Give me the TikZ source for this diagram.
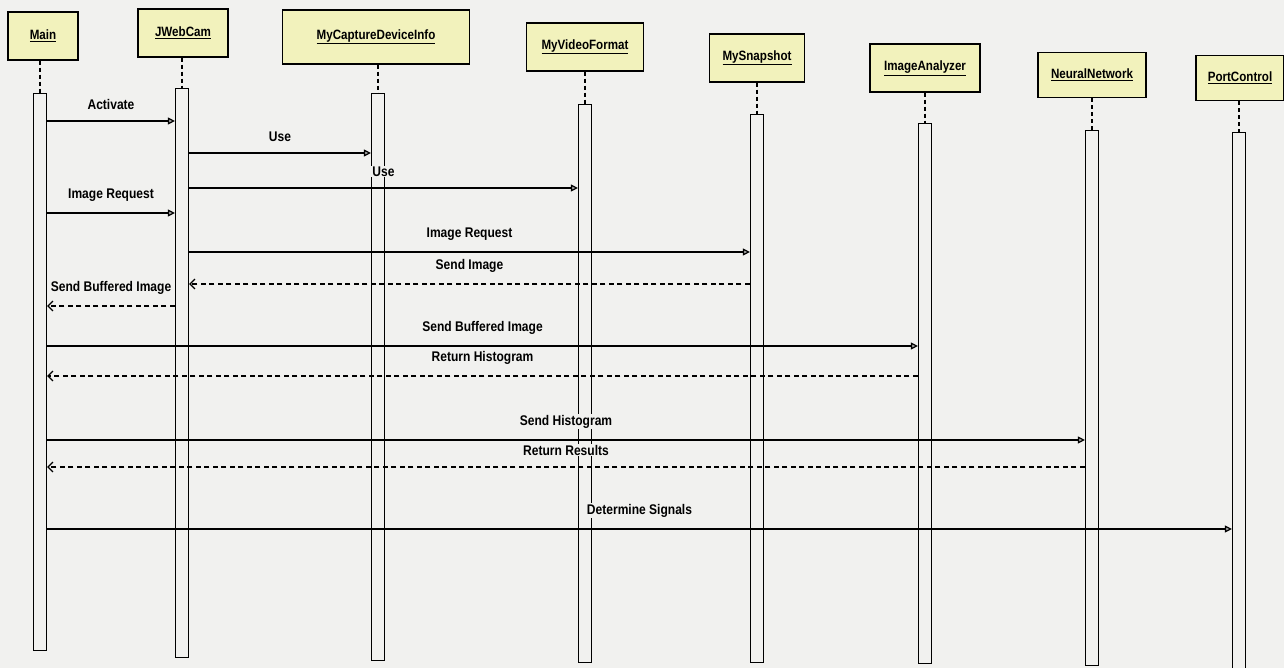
\documentclass[tikz,border=0pt]{standalone}
\usepackage{fontspec}
\newfontfamily\umlfont{Liberation Sans}[FakeStretch=0.86]
\usetikzlibrary{arrows.meta}
\definecolor{paper}{HTML}{F1F1EF}
\definecolor{headfill}{HTML}{F2F2BC}

\begin{document}
\begin{tikzpicture}[x=1pt,y=-1pt,
  line width=1.2pt,
  lifehead/.style={draw, fill=headfill, inner sep=0pt, minimum height=48pt,
    font=\umlfont\bfseries\fontsize{13.5}{15}\selectfont},
  actbar/.style={draw, inner sep=0pt, minimum width=13pt, anchor=north},
  lifeline/.style={line width=1.4pt, dash pattern=on 4pt off 3pt},
  call/.style={-{Triangle[length=7pt,width=7pt,fill=gray!70]}},
  reply/.style={dash pattern=on 5pt off 3.5pt, -{Straight Barb[length=5pt,width=10pt]}},
  msglabel/.style={fill=paper, inner sep=1pt, midway, above=10pt,
    font=\umlfont\bfseries\fontsize{14}{16}\selectfont}
]
% page
\fill[paper] (0,0) rectangle (1284,668);
\useasboundingbox (0,0) rectangle (1284,668);

% object heads
\node[lifehead, minimum width=70pt]  (mainH) at (43,36)   {\underline{Main}};
\node[lifehead, minimum width=90pt]  (jwH)   at (183,33)  {\underline{JWebCam}};
\node[lifehead, minimum width=187pt, minimum height=54pt] (capH) at (376,37) {\underline{MyCaptureDeviceInfo}};
\node[lifehead, minimum width=117pt] (vfH)   at (585,47)  {\underline{MyVideoFormat}};
\node[lifehead, minimum width=95pt]  (snH)   at (757,58)  {\underline{MySnapshot}};
\node[lifehead, minimum width=110pt] (iaH)   at (925,68)  {\underline{ImageAnalyzer}};
\node[lifehead, minimum width=108pt, minimum height=45pt] (nnH) at (1092,75) {\underline{NeuralNetwork}};
\node[lifehead, minimum width=88pt, minimum height=45pt]  (pcH) at (1240,78) {\underline{PortControl}};

% activation bars
\node[actbar, minimum height=557pt] (mainB) at (40,93)   {};
\node[actbar, minimum height=569pt] (jwB)   at (182,88)  {};
\node[actbar, minimum height=567pt] (capB)  at (378,93)  {};
\node[actbar, minimum height=558pt] (vfB)   at (585,104) {};
\node[actbar, minimum height=548pt] (snB)   at (757,114) {};
\node[actbar, minimum height=540pt] (iaB)   at (925,123) {};
\node[actbar, minimum height=535pt] (nnB)   at (1092,130) {};
\node[actbar, minimum height=536pt] (pcB)   at (1239,132) {};

% lifelines between heads and bars
\foreach \o in {main,jw,cap,vf,sn,ia,nn,pc}
  \draw[lifeline] (\o B.north |- \o H.south) -- (\o B.north);

% message rows
\coordinate (r1)  at (0,121);
\coordinate (r2)  at (0,153);
\coordinate (r3)  at (0,188);
\coordinate (r4)  at (0,213);
\coordinate (r5)  at (0,252);
\coordinate (r6)  at (0,284);
\coordinate (r7)  at (0,306);
\coordinate (r8)  at (0,346);
\coordinate (r9)  at (0,376);
\coordinate (r10) at (0,440);
\coordinate (r11) at (0,467);
\coordinate (r12) at (0,529);

% messages
\draw[call]  (mainB.east |- r1)  -- node[msglabel] {Activate}            (jwB.west |- r1);
\draw[call]  (jwB.east |- r2)    -- node[msglabel] {Use}                 (capB.west |- r2);
\draw[call]  (jwB.east |- r3)    -- node[msglabel] {Use}                 (vfB.west |- r3);
\draw[call]  (mainB.east |- r4)  -- node[msglabel] {Image Request}       (jwB.west |- r4);
\draw[call]  (jwB.east |- r5)    -- node[msglabel] {Image Request}       (snB.west |- r5);
\draw[reply] (snB.west |- r6)    -- node[msglabel] {Send Image}          (jwB.east |- r6);
\draw[reply] (jwB.west |- r7)    -- node[msglabel] {Send Buffered Image} (mainB.east |- r7);
\draw[call]  (mainB.east |- r8)  -- node[msglabel] {Send Buffered Image} (iaB.west |- r8);
\draw[reply] (iaB.west |- r9)    -- node[msglabel] {Return Histogram}    (mainB.east |- r9);
\draw[call]  (mainB.east |- r10) -- node[msglabel] {Send Histogram}      (nnB.west |- r10);
\draw[reply] (nnB.west |- r11)   -- node[msglabel] {Return Results}      (mainB.east |- r11);
\draw[call]  (mainB.east |- r12) -- node[msglabel] {Determine Signals}   (pcB.west |- r12);
\end{tikzpicture}
\end{document}
